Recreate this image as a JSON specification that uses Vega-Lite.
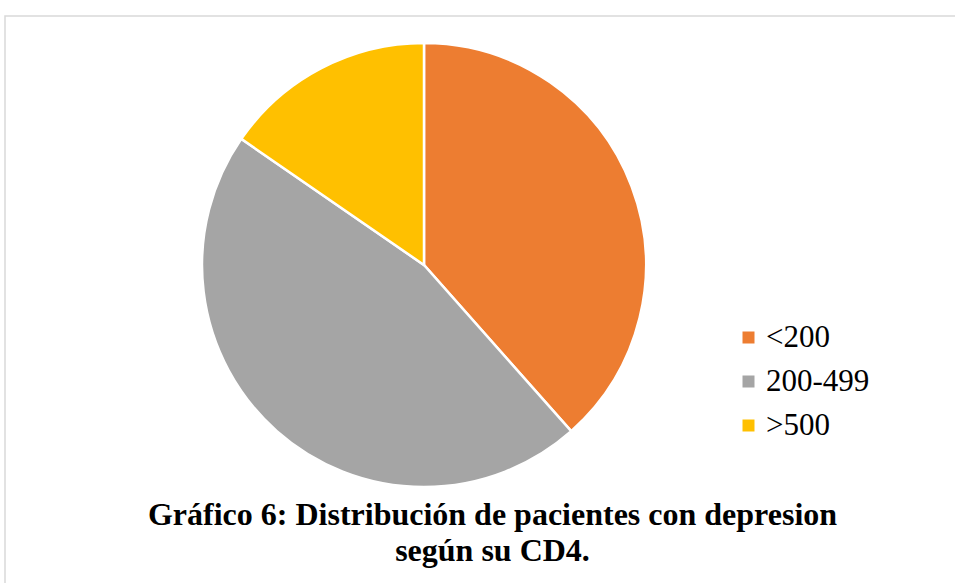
{
  "$schema": "https://vega.github.io/schema/vega-lite/v6.json",
  "autosize": {"type": "none"},
  "padding": {"left": 5, "top": 16, "right": -3, "bottom": -3},
  "width": 953,
  "height": 570,
  "background": "white",
  "view": {"stroke": "#d9d9d9", "strokeWidth": 1.5, "fill": "white"},
  "config": {
    "view": {"stroke": "#d9d9d9", "strokeWidth": 1.5},
    "legend": {"labelFont": "Liberation Serif", "labelFontSize": 31, "labelColor": "black"}
  },
  "title": {
    "text": ["Gráfico 6: Distribución de pacientes con depresion", "según su CD4."],
    "orient": "top",
    "anchor": "middle",
    "offset": 0,
    "dx": 11,
    "dy": 552,
    "font": "Liberation Serif",
    "fontSize": 32,
    "fontWeight": "bold",
    "color": "black",
    "lineHeight": 36
  },
  "data": {
    "values": [
      {"grupo": "<200", "n": 5, "orden": 1},
      {"grupo": "200-499", "n": 6, "orden": 2},
      {"grupo": ">500", "n": 2, "orden": 3}
    ]
  },
  "mark": {"type": "arc", "x": 419, "y": 249, "outerRadius": 222, "stroke": "white", "strokeWidth": 2.5},
  "encoding": {
    "theta": {"field": "n", "type": "quantitative", "stack": true},
    "order": {"field": "orden", "type": "quantitative"},
    "color": {
      "field": "grupo",
      "type": "nominal",
      "scale": {"domain": ["<200", "200-499", ">500"], "range": ["#ED7D31", "#A5A5A5", "#FFC000"]},
      "legend": {
        "title": null,
        "orient": "none",
        "legendX": 728,
        "legendY": 306,
        "symbolType": "square",
        "symbolSize": 144,
        "symbolStrokeWidth": 0,
        "labelFont": "Liberation Serif",
        "labelFontSize": 31,
        "labelColor": "black",
        "labelOffset": 2,
        "rowPadding": 12
      }
    }
  }
}
